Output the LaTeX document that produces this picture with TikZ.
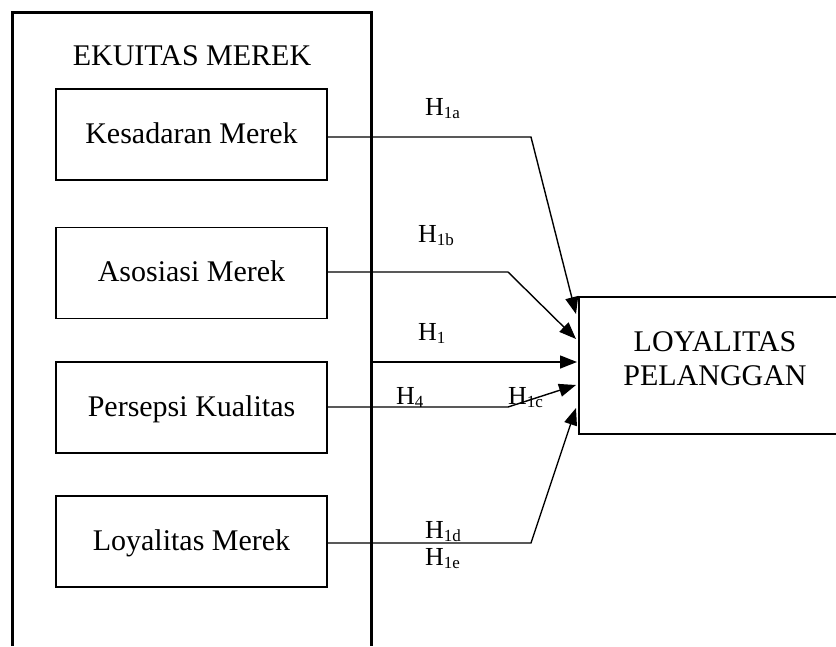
\documentclass[tikz,border=0pt]{standalone}
\usepackage{fontspec}
\setmainfont{Liberation Serif}
\usetikzlibrary{arrows.meta}
\newcommand{\hsub}[1]{\raisebox{-0.28ex}{\fontsize{17}{17}\selectfont #1}}
\begin{document}
\begin{tikzpicture}[x=1pt,y=-1pt,
  every node/.style={font=\fontsize{30}{34}\selectfont},
  inbox/.style={draw, line width=1.4pt, minimum width=271pt, minimum height=91pt, text height=17pt, text depth=0pt, inner sep=0pt},
  lbl/.style={anchor=base west, inner sep=0pt, font=\fontsize{26}{28}\selectfont},
  arr/.style={line width=1.4pt, -{Triangle[length=17pt,width=13pt]}}]
\useasboundingbox (0,0) rectangle (836,646);
% outer frame
\draw[line width=3pt] (12,646) -- (12,12) -- (371,12) -- (371,646);
\node[anchor=base, inner sep=0pt] (ek) at (192,65) {EKUITAS MEREK};
% inner boxes
\node[inbox] (k) at (191.5,134.5) {Kesadaran Merek};
\node[inbox] (a) at (191.5,273) {Asosiasi Merek};
\node[inbox] (p) at (191.5,407.5) {Persepsi Kualitas};
\node[inbox] (m) at (191.5,541.5) {Loyalitas Merek};
% target box
\node[draw, line width=1.4pt, minimum width=272pt, minimum height=137pt, inner sep=0pt] (L) at (715,365.5) {};
\node[anchor=base, inner sep=0pt] (lt1) at (715,351) {LOYALITAS};
\node[anchor=base, inner sep=0pt] (lt2) at (715,385) {PELANGGAN};
% coordinates
\coordinate (b1) at (531,137);
\coordinate (b2) at (508,272);
\coordinate (b4) at (508,407);
\coordinate (b5) at (531,543);
\coordinate (o1) at (371,362);
\coordinate (t1) at (576,314);
\coordinate (t2) at (576,339);
\coordinate (t3) at (577,362);
\coordinate (t4) at (576,385);
\coordinate (t5) at (576,408);
% connectors
\draw[arr] (k.east |- b1) -- (b1) -- (t1);
\draw[arr] (a.east |- b2) -- (b2) -- (t2);
\draw[arr] (o1) -- (t3);
\draw[arr] (p.east |- b4) -- (b4) -- (t4);
\draw[arr] (m.east |- b5) -- (b5) -- (t5);
% labels
\node[lbl] (h1a) at (425,115) {H\hsub{1a}};
\node[lbl] (h1b) at (418,242) {H\hsub{1b}};
\node[lbl] (h1) at (418,340) {H\hsub{1}};
\node[lbl] (h4) at (396,404) {H\hsub{4}};
\node[lbl] (h1c) at (508,404) {H\hsub{1c}};
\node[lbl] (h1d) at (425,538) {H\hsub{1d}};
\node[lbl] (h1e) at (425,565) {H\hsub{1e}};
\end{tikzpicture}
\end{document}
